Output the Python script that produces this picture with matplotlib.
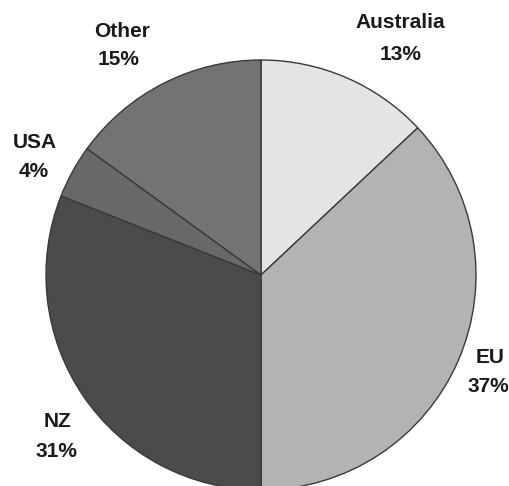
import matplotlib
matplotlib.use("Agg")
import matplotlib.pyplot as plt

# du lieu
regions = ["Australia", "EU", "NZ", "USA", "Other"]
shares = [13, 37, 31, 4, 15]
colors = ["#e4e4e4", "#b3b3b3", "#4b4b4b", "#686868", "#737373"]

# vi tri nhan (pixel, duong co so cua chu)
name_pos = [(400, 28), (490, 363), (57, 427), (35, 148), (122, 37)]
pct_pos = [(401, 60), (488, 392), (56, 457), (34, 177), (119, 65)]

W, H = 509, 486
cx, cy, R = 261, 275, 215


def to_data(px, py):
    return (px - cx) / R, (cy - py) / R


plt.rcParams['font.family'] = ['Liberation Sans', 'DejaVu Sans']

fig = plt.figure(figsize=(W / 100, H / 100), dpi=100)
ax = fig.add_axes([0, 0, 1, 1])
ax.pie(shares, colors=colors, startangle=90, counterclock=False, radius=1,
       wedgeprops=dict(edgecolor="#3a3a3a", linewidth=1.0))
ax.set_xlim(to_data(0, 0)[0], to_data(W, 0)[0])
ax.set_ylim(to_data(0, H)[1], to_data(0, 0)[1])
ax.set_aspect('auto')
ax.axis('off')

for name, val, p1, p2 in zip(regions, shares, name_pos, pct_pos):
    x, y = to_data(*p1)
    ax.text(x, y, name, ha='center', va='baseline', fontsize=15,
            fontweight='bold', color='#1a1a1a')
    x, y = to_data(*p2)
    ax.text(x, y, f"{val}%", ha='center', va='baseline', fontsize=15,
            fontweight='bold', color='#1a1a1a')

fig.savefig("out.png", dpi=100, facecolor='white')
